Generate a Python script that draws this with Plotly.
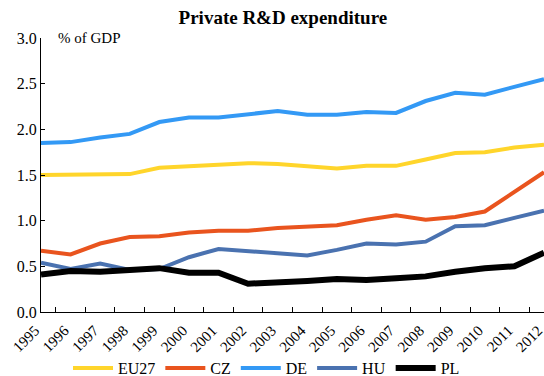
import plotly.graph_objects as go

years = [str(y) for y in range(1995, 2013)]
eu27 = [1.50, 1.50, 1.50, 1.51, 1.58, 1.60, 1.62, 1.63, 1.62, 1.59, 1.57, 1.60, 1.60, 1.67, 1.74, 1.75, 1.80, 1.83]
cz = [0.67, 0.63, 0.75, 0.82, 0.83, 0.87, 0.89, 0.89, 0.92, 0.93, 0.95, 1.01, 1.06, 1.01, 1.04, 1.10, 1.32, 1.53]
de = [1.85, 1.86, 1.91, 1.95, 2.08, 2.13, 2.13, 2.16, 2.20, 2.16, 2.16, 2.19, 2.18, 2.31, 2.40, 2.38, 2.47, 2.55]
hu = [0.54, 0.47, 0.53, 0.46, 0.47, 0.60, 0.69, 0.67, 0.65, 0.62, 0.68, 0.75, 0.74, 0.77, 0.94, 0.95, 1.03, 1.11]
pl = [0.41, 0.45, 0.44, 0.46, 0.48, 0.43, 0.43, 0.31, 0.32, 0.34, 0.36, 0.35, 0.37, 0.39, 0.44, 0.48, 0.50, 0.65]

series = [
    ("EU27", eu27, "#FFD52B", 4),
    ("CZ", cz, "#E9541E", 4),
    ("DE", de, "#3399F5", 4),
    ("HU", hu, "#4A72B0", 4),
    ("PL", pl, "#000000", 6),
]

fig = go.Figure()
for name, vals, color, w in series:
    fig.add_trace(go.Scatter(x=years, y=vals, name=name, mode="lines",
                             line=dict(color=color, width=w)))

font = "Liberation Serif"
fig.update_layout(
    width=544, height=376,
    margin=dict(l=41, r=0, t=38, b=64),
    paper_bgcolor="white", plot_bgcolor="white",
    font=dict(family=font, size=15, color="#000000"),
    title=dict(text="<b>Private R&D expenditure</b>", x=0.52, xanchor="center",
               y=0.955, yanchor="middle", font=dict(family=font, size=19)),
    showlegend=True,
    legend=dict(orientation="h", x=(68 - 41) / 503, xref="paper", xanchor="left",
                yref="container", y=(376 - 368) / 376, yanchor="middle",
                font=dict(family=font, size=16), itemwidth=40,
                bgcolor="rgba(0,0,0,0)"),
    annotations=[dict(text="% of GDP", xref="paper", yref="paper", x=0.03, y=1.0,
                      xanchor="left", yanchor="middle", showarrow=False,
                      font=dict(family=font, size=15))],
)
fig.update_xaxes(type="category", showline=True, linecolor="#000000", linewidth=1,
                 ticks="inside", tickson="boundaries", ticklen=5, tickcolor="#000000",
                 tickangle=-45, showgrid=False, automargin=False, ticklabelshift=-6,
                 ticklabelstandoff=3,
                 tickfont=dict(family=font, size=15))
fig.update_yaxes(range=[0, 3], dtick=0.5, tickformat=".1f", showline=True,
                 linecolor="#000000", linewidth=1, ticks="inside", ticklen=4,
                 tickcolor="#000000", showgrid=False, zeroline=False, automargin=False,
                 tickfont=dict(family=font, size=16))

fig.write_html("out.html")
